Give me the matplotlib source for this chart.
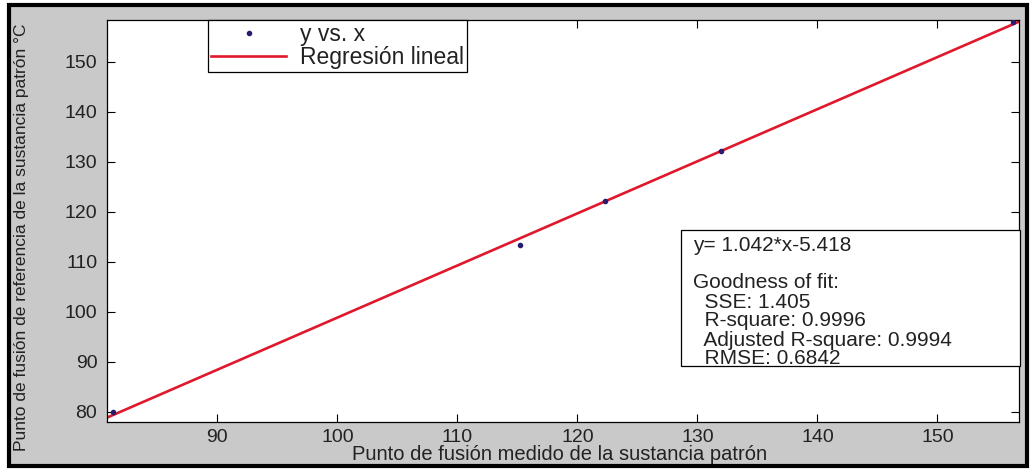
import numpy as np
import matplotlib
matplotlib.use("Agg")
import matplotlib.pyplot as plt
from matplotlib.patches import Rectangle

# ── Data ──────────────────────────────────────────────────────
x_meas = [81.3, 115.2, 122.3, 132.0, 156.3]     # measured melting point
y_ref  = [79.9, 113.3, 122.2, 132.1, 157.9]     # reference melting point
slope, intercept = 1.042, -5.418
x_ticks = [90, 100, 110, 120, 130, 140, 150]
y_ticks = [80, 90, 100, 110, 120, 130, 140, 150]
x_lim = (80.8, 156.8)
y_lim = (77.9, 158.3)
fit_lines = [
    "y= 1.042*x-5.418",
    "",
    "Goodness of fit:",
    "  SSE: 1.405",
    "  R-square: 0.9996",
    "  Adjusted R-square: 0.9994",
    "  RMSE: 0.6842",
]

plt.rcParams["font.family"] = ["Liberation Sans", "DejaVu Sans"]

W, H = 1031, 470
fig = plt.figure(figsize=(W / 100, H / 100), dpi=100)
fig.patch.set_facecolor("white")

# gray panel with thick black frame (matlab figure window look)
fig.patches.append(Rectangle((9 / W, 4 / H), 1018 / W, 461 / H,
                             transform=fig.transFigure, facecolor="#c9c9c9",
                             edgecolor="black", linewidth=3, zorder=-5))

ax = fig.add_axes([107 / W, 1 - 422 / H, 912 / W, 402 / H])
ax.set_facecolor("white")

xs = np.linspace(x_lim[0], x_lim[1], 50)
ax.plot(xs, slope * xs + intercept, color="#e0182c", linewidth=1.9,
        label="Regresión lineal", zorder=2)
ax.plot(x_meas, y_ref, linestyle="none", marker="o", markersize=3.0,
        color="#2b1b6e", label="y vs. x", zorder=3)

ax.set_xlim(*x_lim)
ax.set_ylim(*y_lim)
ax.set_xticks(x_ticks)
ax.set_yticks(y_ticks)
ax.tick_params(direction="in", length=6, width=0.8, labelsize=14,
               top=True, right=True, colors="black")
ax.tick_params(axis="y", pad=7)
ax.tick_params(axis="x", pad=5)
ax.tick_params(labelcolor="#222222")
for sp in ax.spines.values():
    sp.set_linewidth(0.9)

# legend order as in the picture: points first, then fit line
h, l = ax.get_legend_handles_labels()
leg = ax.legend(h[::-1], l[::-1], loc="upper left",
                bbox_to_anchor=(0.1107, 1.0), borderaxespad=0,
                fontsize=16.5, fancybox=False, edgecolor="black",
                framealpha=1, handlelength=3.3, handletextpad=0.6,
                labelspacing=0.02, borderpad=0.12)
leg.get_frame().set_linewidth(0.9)
for t in leg.get_texts():
    t.set_color("#222222")

# goodness of fit box
fig.patches.append(Rectangle((681 / W, 1 - 366 / H), 339 / W, 136 / H,
                             transform=fig.transFigure, facecolor="white",
                             edgecolor="black", linewidth=0.9, zorder=5))
line_y = [245, 264, 283, 302, 321, 340, 358]
for txt, yy in zip(fit_lines, line_y):
    fig.text(693 / W, 1 - yy / H, txt, fontsize=15, color="#222222",
             va="center", ha="left", zorder=6)

fig.text(560 / W, 1 - 455 / H, "Punto de fusión medido de la sustancia patrón",
         fontsize=14.5, ha="center", va="center", color="#222222")
fig.text(22 / W, 1 - 237 / H,
         "Punto de fusión de referencia de la sustancia patrón °C",
         fontsize=12.5, rotation=90, ha="center", va="center", color="#222222")

fig.savefig("out.png", dpi=100)
